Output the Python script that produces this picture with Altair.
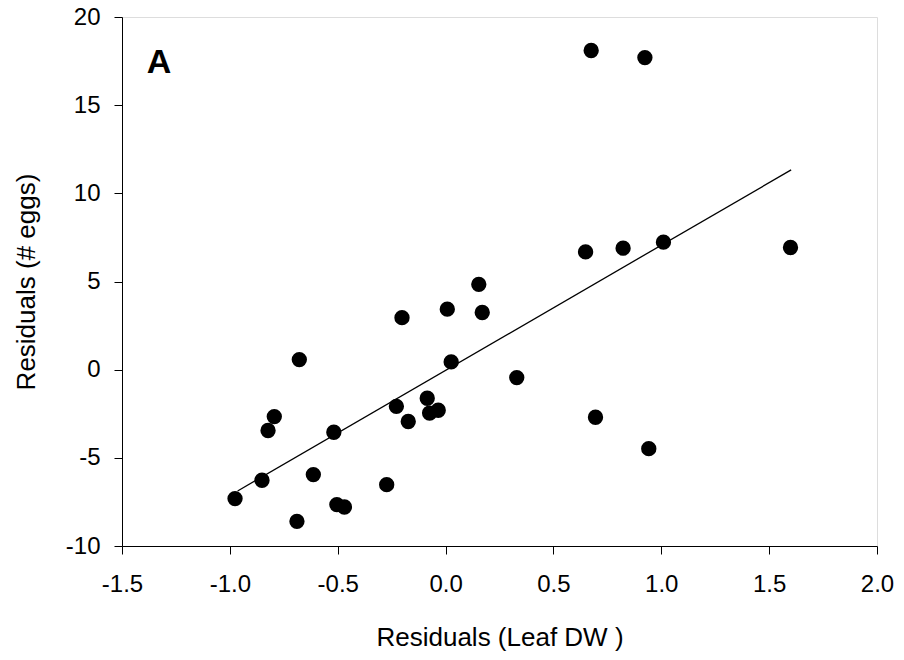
import altair as alt
import pandas as pd

# Data
resid_leaf_dw = [-0.976, -0.851, -0.823, -0.794, -0.678, -0.689, -0.613, -0.518, -0.504, -0.469,
                 -0.273, -0.228, -0.202, -0.173, -0.085, -0.074, -0.034, 0.008, 0.026, 0.154,
                 0.170, 0.330, 0.649, 0.675, 0.695, 0.823, 0.924, 0.942, 1.010, 1.599]
resid_eggs = [-7.31, -6.27, -3.45, -2.66, 0.57, -8.60, -5.95, -3.55, -7.65, -7.79,
              -6.52, -2.08, 2.95, -2.94, -1.62, -2.46, -2.30, 3.43, 0.44, 4.84,
              3.24, -0.45, 6.68, 18.10, -2.70, 6.89, 17.70, -4.48, 7.23, 6.93]

fit_x = [-0.964, 1.602]
fit_y = [-6.88, 11.33]

panel_label = ["A"]
panel_x = [-1.385]
panel_y = [16.81]

x_ticks = [-1.5, -1.0, -0.5, 0.0, 0.5, 1.0, 1.5, 2.0]
y_ticks = [-10, -5, 0, 5, 10, 15, 20]

pts = pd.DataFrame({"x": resid_leaf_dw, "y": resid_eggs})
fit = pd.DataFrame({"x": fit_x, "y": fit_y})
ann = pd.DataFrame({"label": panel_label, "x": panel_x, "y": panel_y})

FONT = "Liberation Sans"
HYPHEN = "replace(datum.label, '\u2212', '-')"

xscale = alt.Scale(domain=[-1.5, 2.0], nice=False, zero=False)
yscale = alt.Scale(domain=[-10, 20], nice=False, zero=False)

xaxis = alt.Axis(title="Residuals (Leaf DW )", values=x_ticks, format=".1f", labelExpr=HYPHEN,
                 grid=False, tickSize=8, labelPadding=18, titlePadding=28, labelFontSize=24,
                 titleFontSize=26, titleFontWeight="normal", labelFont=FONT, titleFont=FONT,
                 domainColor="black", tickColor="black", labelColor="black", titleColor="black",
                 labelFlush=False)
yaxis = alt.Axis(title="Residuals (# eggs)", values=y_ticks, format="d", labelExpr=HYPHEN,
                 grid=False, tickSize=8, labelPadding=14, titlePadding=26, labelFontSize=24,
                 titleFontSize=26, titleFontWeight="normal", labelFont=FONT, titleFont=FONT,
                 domainColor="black", tickColor="black", labelColor="black", titleColor="black",
                 labelFlush=False)

points = alt.Chart(pts).mark_circle(size=235, color="black", opacity=1).encode(
    x=alt.X("x:Q", scale=xscale, axis=xaxis),
    y=alt.Y("y:Q", scale=yscale, axis=yaxis),
)

line = alt.Chart(fit).mark_line(color="black", strokeWidth=1.3).encode(
    x=alt.X("x:Q", scale=xscale),
    y=alt.Y("y:Q", scale=yscale),
)

label = alt.Chart(ann).mark_text(font=FONT, fontSize=34, fontWeight="bold", align="left",
                                 baseline="alphabetic", color="black").encode(
    x=alt.X("x:Q", scale=xscale),
    y=alt.Y("y:Q", scale=yscale),
    text="label:N",
)

chart = alt.layer(line, points, label).properties(
    width=755, height=529,
    autosize=alt.AutoSizeParams(type="none"),
    padding={"left": 114, "top": 9, "right": 18, "bottom": 112},
).configure_view(stroke="black", strokeWidth=1).configure(background="white")

chart.save("out.html", embed_options={"renderer": "svg", "actions": False})
